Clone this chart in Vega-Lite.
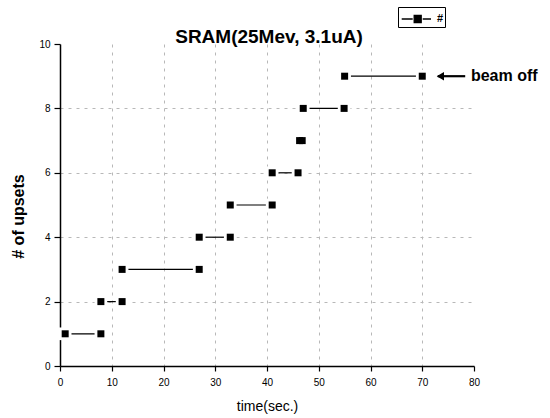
{
  "$schema": "https://vega.github.io/schema/vega-lite/v6.json",
  "width": 414,
  "height": 322,
  "autosize": {"type": "none"},
  "padding": {"left": 60, "top": 44, "right": 76, "bottom": 52},
  "background": "white",
  "config": {"view": {"stroke": null}, "font": "Liberation Sans"},
  "title": {"text": "SRAM(25Mev, 3.1uA)", "fontSize": 19, "fontWeight": "bold", "font": "Liberation Sans", "color": "black", "anchor": "middle", "frame": "group", "baseline": "alphabetic", "offset": 0, "dx": 2, "dy": 55},
  "datasets": {
    "segs": [
      {"t": 1, "n": 1, "g": 1, "series": "#"},
      {"t": 7.9, "n": 1, "g": 1, "series": "#"},
      {"t": 7.9, "n": 2, "g": 2, "series": "#"},
      {"t": 12, "n": 2, "g": 2, "series": "#"},
      {"t": 12, "n": 3, "g": 3, "series": "#"},
      {"t": 26.9, "n": 3, "g": 3, "series": "#"},
      {"t": 26.9, "n": 4, "g": 4, "series": "#"},
      {"t": 32.9, "n": 4, "g": 4, "series": "#"},
      {"t": 32.9, "n": 5, "g": 5, "series": "#"},
      {"t": 41, "n": 5, "g": 5, "series": "#"},
      {"t": 41, "n": 6, "g": 6, "series": "#"},
      {"t": 46, "n": 6, "g": 6, "series": "#"},
      {"t": 46.3, "n": 7, "g": 7, "series": "#"},
      {"t": 46.8, "n": 7, "g": 7, "series": "#"},
      {"t": 47, "n": 8, "g": 8, "series": "#"},
      {"t": 54.9, "n": 8, "g": 8, "series": "#"},
      {"t": 55, "n": 9, "g": 9, "series": "#"},
      {"t": 70, "n": 9, "g": 9, "series": "#"}
    ],
    "arrow": [
      {"t": 73, "n": 9},
      {"t": 78.3, "n": 9}
    ],
    "head": [{"t": 73.5, "n": 9}],
    "note": [{"t": 79.4, "n": 9, "label": "beam off"}]
  },
  "layer": [
    {
      "data": {"name": "segs"},
      "mark": {"type": "line", "color": "black", "strokeWidth": 1.2},
      "encoding": {
        "x": {
          "field": "t", "type": "quantitative",
          "scale": {"domain": [0, 80], "nice": false, "zero": false},
          "axis": {
            "values": [0, 5, 10, 15, 20, 25, 30, 35, 40, 45, 50, 55, 60, 65, 70, 75, 80],
            "title": "time(sec.)",
            "labelExpr": "datum.value % 10 === 0 ? datum.label : ''",
            "grid": true, "gridColor": "#b8b8b8", "gridDash": [3, 5], "gridWidth": 1,
            "gridOpacity": {"condition": {"test": "datum.value % 10 !== 0 || datum.value === 0 || datum.value === 80", "value": 0}, "value": 1},
            "tickSize": {"condition": {"test": "datum.value % 10 === 0", "value": 5}, "value": 3},
            "domainColor": "black", "domainWidth": 1.5, "tickColor": "black", "tickWidth": 1.2,
            "labelFontSize": 10, "labelColor": "black", "labelPadding": 6, "labelFlush": false,
            "labelFont": "Liberation Sans",
            "titleFontSize": 14, "titleFontWeight": "normal", "titleColor": "black", "titlePadding": 12,
            "titleFont": "Liberation Sans"
          }
        },
        "y": {
          "field": "n", "type": "quantitative",
          "scale": {"domain": [0, 10], "nice": false},
          "axis": {
            "values": [0, 1, 2, 3, 4, 5, 6, 7, 8, 9, 10],
            "title": "# of upsets",
            "labelExpr": "datum.value % 2 === 0 ? datum.label : ''",
            "grid": true, "gridColor": "#b8b8b8", "gridDash": [3, 5], "gridWidth": 1,
            "gridOpacity": {"condition": {"test": "datum.value % 2 !== 0 || datum.value === 0 || datum.value === 10", "value": 0}, "value": 1},
            "tickSize": {"condition": {"test": "datum.value % 2 === 0", "value": 6}, "value": 3},
            "domainColor": "black", "domainWidth": 1.5, "tickColor": "black", "tickWidth": 1.2,
            "labelFontSize": 10, "labelColor": "black", "labelPadding": 4,
            "labelFont": "Liberation Sans",
            "titleFontSize": 16, "titleFontWeight": "bold", "titleColor": "black", "titlePadding": 12,
            "titleFont": "Liberation Sans", "titleY": 172
          }
        },
        "detail": {"field": "g", "type": "nominal"}
      }
    },
    {
      "data": {"name": "segs"},
      "mark": {"type": "point", "shape": "square", "filled": true, "color": "white", "opacity": 1, "size": 160},
      "encoding": {
        "x": {"field": "t", "type": "quantitative"},
        "y": {"field": "n", "type": "quantitative"}
      }
    },
    {
      "data": {"name": "segs"},
      "mark": {"type": "point", "shape": "square", "filled": true, "opacity": 1, "size": 49},
      "encoding": {
        "x": {"field": "t", "type": "quantitative"},
        "y": {"field": "n", "type": "quantitative"},
        "color": {
          "field": "series", "type": "nominal",
          "scale": {"domain": ["#"], "range": ["black"]},
          "legend": {
            "orient": "none", "legendX": 338, "legendY": -37, "title": null,
            "symbolType": "M-0.83,0H0.27M0.42,-0.35H1.12V0.35H0.42ZM1.27,0H2.1",
            "symbolSize": 400, "symbolFillColor": "black", "symbolStrokeColor": "black",
            "symbolStrokeWidth": 1.3, "symbolOffset": 0, "labelOffset": 16,
            "labelFontSize": 11, "labelFontWeight": "bold", "labelColor": "black", "labelFont": "Liberation Sans",
            "padding": 1, "strokeColor": "black", "fillColor": "white"
          }
        }
      }
    },
    {
      "data": {"name": "arrow"},
      "mark": {"type": "line", "color": "black", "strokeWidth": 2.2},
      "encoding": {
        "x": {"field": "t", "type": "quantitative"},
        "y": {"field": "n", "type": "quantitative"}
      }
    },
    {
      "data": {"name": "head"},
      "mark": {"type": "point", "shape": "triangle-left", "filled": true, "color": "black", "opacity": 1, "size": 70},
      "encoding": {
        "x": {"field": "t", "type": "quantitative"},
        "y": {"field": "n", "type": "quantitative"}
      }
    },
    {
      "data": {"name": "note"},
      "mark": {"type": "text", "align": "left", "baseline": "middle", "fontSize": 16, "fontWeight": "bold", "font": "Liberation Sans", "color": "black"},
      "encoding": {
        "x": {"field": "t", "type": "quantitative"},
        "y": {"field": "n", "type": "quantitative"},
        "text": {"field": "label", "type": "nominal"}
      }
    }
  ]
}
